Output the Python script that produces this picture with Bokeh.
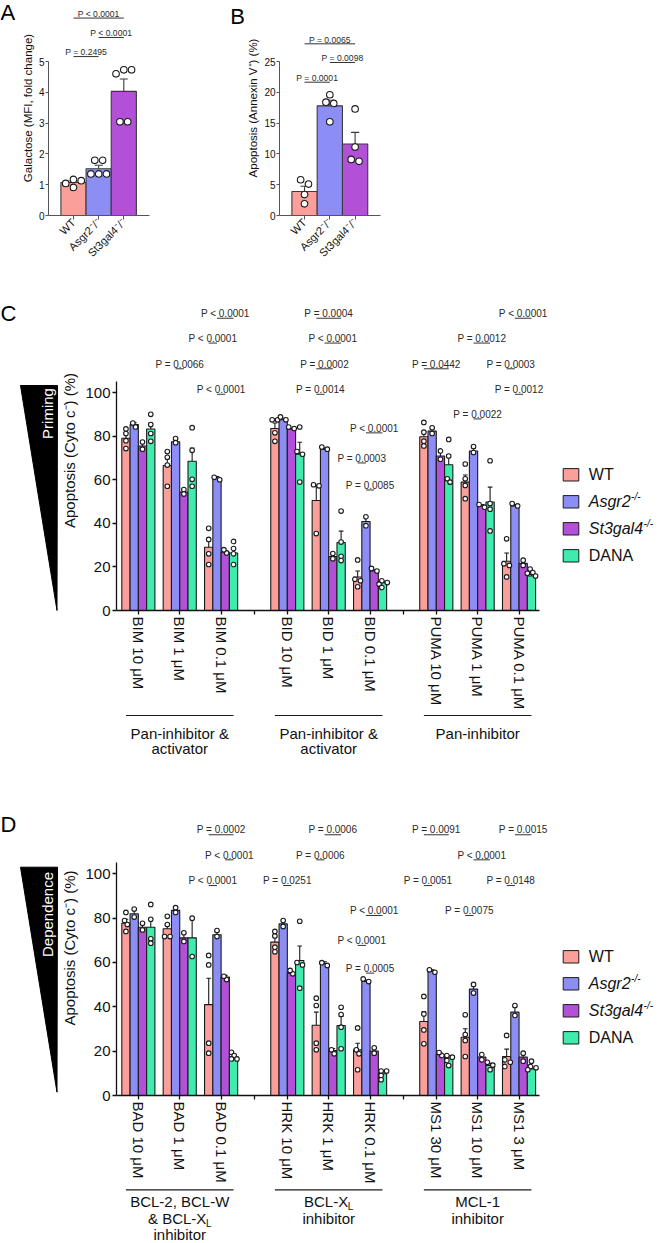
import math
from bokeh.plotting import figure
from bokeh.layouts import row, column
from bokeh.models import Range1d, FixedTicker
from bokeh.embed import file_html
from bokeh.resources import INLINE
from bokeh.core.properties import value

FONT = "Liberation Sans"
INK = "#1b1b1b"
FILLS = ["#FA9F9A", "#8C8EF6", "#B250D7", "#3FECAE"]

# ---------------- Panel A: surface galactose ----------------
a_groups = ["WT", "Asgr2⁻/⁻", "St3gal4⁻/⁻"]
a_mean = [1.07, 1.52, 4.03]
a_sem = [0.06, 0.11, 0.40]
a_points = [[1.17, 1.13, 1.04, 0.91],
            [1.79, 1.79, 1.35, 1.35, 1.35],
            [4.73, 4.60, 4.73, 3.04, 3.04]]
a_yticks = [0, 1, 2, 3, 4, 5]
a_tests = [("P < 0.0001", 0, 2), ("P < 0.0001", 1, 2), ("P = 0.2495", 0, 1)]
a_levels = [6.41, 5.78, 5.16]

# ---------------- Panel B: Annexin V ----------------
b_groups = ["WT", "Asgr2⁻/⁻", "St3gal4⁻/⁻"]
b_mean = [3.9, 17.8, 11.6]
b_sem = [0.85, 0.9, 1.9]
b_points = [[5.1, 5.8, 3.4, 1.9],
            [19.6, 18.4, 18.2, 15.2],
            [17.3, 11.1, 8.8, 9.1]]
b_yticks = [0, 5, 10, 15, 20, 25]
b_tests = [("P = 0.0065", 0, 2), ("P = 0.0098", 1, 2), ("P = 0.0001", 0, 1)]
b_levels = [27.87, 24.84, 21.64]

# ---------------- Panel C: BH3 priming ----------------
c_conditions = ["BIM 10 μM", "BIM 1 μM", "BIM 0.1 μM",
                "BID 10 μM", "BID 1 μM", "BID 0.1 μM",
                "PUMA 10 μM", "PUMA 1 μM", "PUMA 0.1 μM"]
c_families = [["Pan-inhibitor &", "activator"], ["Pan-inhibitor &", "activator"], ["Pan-inhibitor"]]
c_wt_mean = [79.0, 66.5, 29.0, 83.5, 50.5, 15.4, 79.7, 58.9, 22.6]
c_asgr2_mean = [85.3, 77.4, 60.8, 87.5, 74.0, 40.8, 82.3, 73.2, 48.0]
c_st3_mean = [75.5, 54.3, 26.7, 83.3, 24.8, 18.1, 70.9, 48.0, 21.6]
c_dana_mean = [83.3, 68.5, 26.4, 71.7, 31.2, 12.8, 66.9, 49.8, 15.8]
c_wt_sem = [2.5, 3.2, 4.2, 2.5, 7.0, 2.7, 2.3, 3.3, 3.8]
c_asgr2_sem = [0.9, 1.0, 0.6, 0.7, 0.5, 2.1, 1.3, 1.4, 0.6]
c_st3_sem = [1.7, 1.1, 0.8, 0.4, 1.2, 0.6, 1.9, 0.6, 1.2]
c_dana_sem = [2.7, 6.0, 2.2, 5.5, 5.2, 0.7, 4.7, 6.8, 0.7]
c_wt_pts = [[83.3, 81.2, 77.9, 74.3], [72.9, 70.3, 66.7, 57.0], [37.7, 32.6, 26.0, 21.1],
            [87.5, 87.5, 81.5, 77.6], [57.7, 57.2, 35.3], [23.2, 14.3, 13.6, 10.9],
            [86.3, 81.8, 77.7, 75.5], [67.2, 60.4, 57.4, 51.3], [32.9, 21.4, 20.7, 15.4]]
c_asgr2_pts = [[84.2, 86.0], [78.9, 77.0], [60.0, 61.1], [87.5, 88.8], [74.0, 75.0],
               [43.0, 38.9], [83.8, 81.2], [75.2, 72.5], [48.0, 49.1]]
c_st3_pts = [[77.3, 74.0], [55.5, 53.4], [26.4, 27.9], [83.5, 84.2], [26.1, 23.7],
             [18.1, 19.3], [73.2, 69.4], [47.4, 48.6], [23.1, 20.7]]
c_dana_pts = [[90.0, 85.3, 81.2, 77.6], [83.9, 73.5, 60.2, 57.0], [31.7, 28.4, 26.0, 21.1],
              [84.2, 72.9, 71.7, 58.9], [45.6, 31.4, 24.9, 22.9], [13.6, 12.8, 12.1, 10.6],
              [78.5, 70.9, 60.4, 58.9], [68.7, 49.1, 46.5, 36.5], [19.0, 17.4, 17.1, 15.8]]
# (label, condition, genotype a, genotype b, bracket row)
c_tests = [("P < 0.0001", 2, 1, 3, 0), ("P = 0.0004", 4, 0, 3, 0), ("P < 0.0001", 8, 1, 3, 0),
           ("P < 0.0001", 2, 0, 1, 1), ("P < 0.0001", 4, 1, 3, 1), ("P = 0.0012", 7, 1, 3, 1),
           ("P = 0.0066", 1, 1, 2, 2), ("P = 0.0002", 4, 0, 2, 2), ("P = 0.0442", 6, 0, 3, 2),
           ("P = 0.0003", 8, 0, 1, 2),
           ("P < 0.0001", 2, 1, 2, 3), ("P = 0.0014", 4, 0, 1, 3), ("P = 0.0012", 8, 1, 2, 3),
           ("P = 0.0022", 7, 1, 2, 4), ("P < 0.0001", 5, 1, 3, 5), ("P = 0.0003", 5, 0, 1, 6),
           ("P = 0.0085", 5, 1, 2, 7)]
c_levels = [134.1, 122.7, 110.9, 99.2, 87.9, 81.5, 67.7, 55.3]

# ---------------- Panel D: BH3 dependence ----------------
d_conditions = ["BAD 10 μM", "BAD 1 μM", "BAD 0.1 μM",
                "HRK 10 μM", "HRK 1 μM", "HRK 0.1 μM",
                "MS1 30 μM", "MS1 10 μM", "MS1 3 μM"]
d_families = [["BCL-2, BCL-W", "& BCL-X_L", "inhibitor"], ["BCL-X_L", "inhibitor"], ["MCL-1", "inhibitor"]]
d_wt_mean = [77.7, 75.2, 41.0, 69.2, 31.7, 20.6, 33.4, 26.3, 17.6]
d_asgr2_mean = [82.0, 83.5, 72.5, 77.4, 59.6, 51.4, 56.1, 48.0, 37.6]
d_st3_mean = [75.9, 71.1, 53.4, 55.2, 20.3, 20.0, 18.5, 17.3, 17.3]
d_dana_mean = [75.9, 71.1, 17.6, 60.9, 31.6, 9.8, 17.0, 13.5, 12.0]
d_wt_sem = [1.8, 2.1, 11.9, 2.2, 5.9, 3.0, 4.5, 3.8, 3.3]
d_asgr2_sem = [1.8, 1.1, 1.4, 1.4, 0.7, 0.6, 0.6, 2.0, 2.3]
d_st3_sem = [1.5, 2.0, 0.8, 0.8, 0.9, 1.2, 0.7, 1.2, 1.8]
d_dana_sem = [4.0, 8.7, 0.7, 6.5, 4.1, 0.9, 1.0, 1.0, 0.8]
d_wt_pts = [[82.6, 78.9, 77.1, 74.0], [80.8, 77.1, 71.7, 71.7], [63.2, 58.9, 23.6, 19.1],
            [72.0, 74.0, 66.9, 64.8], [43.9, 40.6, 23.6, 20.6], [30.5, 20.6, 18.8, 11.6],
            [44.7, 36.8, 29.6, 23.3], [36.4, 27.5, 24.8, 17.6], [27.1, 16.1, 15.0, 13.1]]
d_asgr2_pts = [[84.1, 80.5], [84.7, 82.6], [74.4, 71.7], [78.9, 76.2], [58.6, 59.9],
               [51.4, 52.6], [55.6, 56.7], [50.1, 46.2], [40.6, 36.1]]
d_st3_pts = [[77.7, 74.7], [73.4, 69.5], [52.3, 53.8], [54.9, 56.4], [20.6, 18.8],
             [19.1, 21.5], [18.0, 19.4], [18.5, 16.1], [19.1, 15.5]]
d_dana_pts = [[86.2, 79.5, 70.7, 68.7], [80.0, 62.7], [19.5, 18.0, 16.5, 16.5],
              [78.6, 60.0, 58.9, 48.4], [39.8, 36.5, 30.8, 21.1], [11.0, 11.0, 9.0, 7.1],
              [18.0, 17.3, 15.8, 13.5], [15.0, 13.7, 11.6], [15.5, 13.1, 12.5, 11.6]]
d_tests = [("P = 0.0002", 2, 0, 3, 0), ("P = 0.0006", 4, 1, 3, 0), ("P = 0.0091", 6, 0, 3, 0),
           ("P = 0.0015", 8, 1, 3, 0),
           ("P < 0.0001", 2, 2, 3, 1), ("P = 0.0006", 4, 0, 1, 1), ("P < 0.0001", 7, 1, 3, 1),
           ("P < 0.0001", 2, 0, 1, 2), ("P = 0.0251", 3, 1, 2, 2), ("P = 0.0051", 6, 0, 1, 2),
           ("P = 0.0148", 8, 0, 1, 2),
           ("P < 0.0001", 5, 1, 3, 3), ("P = 0.0075", 7, 0, 1, 3),
           ("P < 0.0001", 5, 0, 1, 4), ("P = 0.0005", 5, 1, 2, 5)]
d_levels = [117.6, 106.3, 94.7, 81.2, 67.7, 55.2]

legend_names = ["WT", "Asgr2", "St3gal4", "DANA"]
legend_knockout = [False, True, True, False]

# ---------------- helpers ----------------
CHAR_W = {" ": 278, "&": 667, "(": 333, ")": 333, ",": 278, "-": 333, ".": 278, "/": 278,
          "<": 584, "=": 584, "%": 889}
CHAR_W.update({d: 556 for d in "0123456789"})
CHAR_W.update(dict(A=667, B=667, C=722, D=722, E=667, F=611, G=778, H=722, I=278, K=667, L=556,
                   M=833, N=722, O=778, P=667, R=722, S=667, T=611, U=722, V=667, W=944, X=667))
CHAR_W.update(dict(a=556, b=556, c=500, d=556, e=556, f=278, g=556, h=556, i=222, l=222, m=833,
                   n=556, o=556, p=556, r=333, s=500, t=278, v=500, x=500, y=500))


def text_width(s, size):
    return sum(CHAR_W.get(ch, 556) for ch in s) * size / 1000.0


def make_fig(w, h, xr, yr, left=0, bottom=0, axes=True):
    opts = dict(width=w, height=h, x_range=xr, y_range=yr, toolbar_location=None,
                output_backend="svg", min_border_left=left, min_border_right=0,
                min_border_top=0, min_border_bottom=bottom, title=None)
    if not axes:
        opts.update(x_axis_location=None, y_axis_location=None)
    p = figure(**opts)
    p.outline_line_color = None
    p.xgrid.visible = False
    p.ygrid.visible = False
    p.background_fill_color = "white"
    p.border_fill_color = "white"
    return p


def style_axis(ax, size, color, lw, tick_out, standoff):
    ax.axis_line_color = color
    ax.axis_line_width = lw
    ax.major_tick_line_color = color
    ax.major_tick_line_width = lw
    ax.major_tick_out = tick_out
    ax.major_tick_in = 0
    ax.minor_tick_line_color = None
    ax.major_label_text_font = FONT
    ax.major_label_text_font_size = size
    ax.major_label_text_color = "#111111"
    ax.major_label_standoff = standoff
    ax.axis_label_text_font = FONT
    ax.axis_label_text_font_style = "normal"
    ax.axis_label_text_color = "#111111"


def swarm_offsets(vals, px_y, diam, px_x):
    """Spread points that would overlap sideways, then centre each cluster."""
    order = sorted(range(len(vals)), key=lambda i: -vals[i])
    placed = {}
    for i in order:
        y = vals[i] * px_y
        dx = 0.0
        for k in (0, 1, -1, 2, -2, 3, -3):
            dx = k * diam * 0.6
            if all((dx - a) ** 2 + (y - b) ** 2 >= (0.9 * diam) ** 2 for a, b in placed.values()):
                break
        placed[i] = (dx, y)
    clusters, cur = [], [order[0]]
    for prev, nxt in zip(order, order[1:]):
        if placed[prev][1] - placed[nxt][1] < diam:
            cur.append(nxt)
        else:
            clusters.append(cur)
            cur = [nxt]
    clusters.append(cur)
    out = {}
    for cl in clusters:
        mean_dx = sum(placed[i][0] for i in cl) / len(cl)
        for i in cl:
            out[i] = (placed[i][0] - mean_dx) / px_x
    return [out[i] for i in range(len(vals))]


def draw_series(p, series, px_x, px_y, diam, cap_half, lw, edge):
    """series: list of (xs, means, sems, points, fill)."""
    for xs, means, sems, pts, fill in series:
        p.vbar(x=xs, top=means, bottom=0, width=1.0, fill_color=fill, line_color=edge, line_width=lw)
    for xs, means, sems, pts, fill in series:
        tops = [m + s for m, s in zip(means, sems)]
        p.segment(x0=xs, y0=means, x1=xs, y1=tops, line_color=edge, line_width=lw)
        p.segment(x0=[x - cap_half for x in xs], y0=tops, x1=[x + cap_half for x in xs], y1=tops,
                  line_color=edge, line_width=lw)
    dx, dy = [], []
    for xs, means, sems, pts, fill in series:
        for x, vals in zip(xs, pts):
            offs = swarm_offsets(vals, px_y, diam, px_x)
            dx += [x + o for o in offs]
            dy += vals
    p.scatter(x=dx, y=dy, size=diam, marker="circle", fill_color="white", line_color=INK,
              line_width=1.1)


def draw_tests(p, brackets, px_y, size):
    """brackets: list of (label, x0, x1, level); label sits just above its bracket line."""
    p.segment(x0=[b[1] for b in brackets], y0=[b[3] for b in brackets],
              x1=[b[2] for b in brackets], y1=[b[3] for b in brackets],
              line_color="#333333", line_width=1)
    lift = (1.2 + 0.36 * size) / px_y
    p.text(x=[(b[1] + b[2]) / 2 for b in brackets], y=[b[3] + lift for b in brackets],
           text=[b[0] for b in brackets], text_align="center", text_baseline="middle",
           text_font=value(FONT), text_font_size=f"{size}px", text_color="#2a2a2a")


# ---------------- panels A & B ----------------
def genotype_panel(width, left_border, frame_left_px, first_center_px, unit_px, y_ppu,
                   groups, means, sems, points, yticks, ylabel, tests, levels):
    frame_w = width - left_border
    start = (frame_left_px - first_center_px) / unit_px
    xr = Range1d(start, start + frame_w / unit_px)
    yr = Range1d(0, 215 / y_ppu)
    p = make_fig(width, 290, xr, yr, left=left_border, bottom=75)
    xs = list(range(len(groups)))
    draw_series(p, [([x], [m], [s], [pt], FILLS[i]) for i, (x, m, s, pt) in
                    enumerate(zip(xs, means, sems, points))],
                unit_px, y_ppu, 6.6, 0.16, 1.1, "#3a3a3a")
    draw_tests(p, [(t, a, b, lv) for (t, a, b), lv in zip(tests, levels)], y_ppu, 8.6)
    ya = p.yaxis[0]
    style_axis(ya, "10px", "#555555", 1, 3, 1)
    ya.ticker = FixedTicker(ticks=yticks)
    ya.bounds = (0, yticks[-1])
    ya.axis_label = ylabel
    ya.axis_label_text_font_size = "11.5px"
    ya.axis_label_standoff = 2
    xa = p.xaxis[0]
    style_axis(xa, "11px", "#555555", 1, 4, 1)
    xa.ticker = FixedTicker(ticks=xs)
    xa.major_label_overrides = {x: g for x, g in zip(xs, groups)}
    xa.major_label_orientation = math.pi / 4
    xa.bounds = (start, len(groups) + 0.02)
    return p, (first_center_px, unit_px, y_ppu)


figA, a_map = genotype_panel(226, 26, 44, 69.5, 25.67, 30.8, a_groups, a_mean, a_sem, a_points,
                             a_yticks, "Galactose (MFI, fold change)", a_tests, a_levels)
figB, _ = genotype_panel(414, 28, 272, 297.5, 25.75, 6.16, b_groups, b_mean, b_sem, b_points,
                         b_yticks, "Apoptosis (Annexin V⁺) (%)", b_tests, b_levels)
# panel letter "B" sits in the blank right margin of panel A's frame
figB_letter_x = (229.5 - a_map[0]) / a_map[1]
figA.text(x=[figB_letter_x], y=[(215 - 16) / a_map[2]], text=["B"], text_align="left",
          text_baseline="alphabetic", text_font=value(FONT), text_font_size="22px", text_color="black")

letterA = make_fig(18, 290, Range1d(0, 18), Range1d(0, 290), axes=False)
letterA.text(x=[0], y=[290 - 16], text=["A"], text_align="left", text_baseline="alphabetic",
             text_font=value(FONT), text_font_size="22px", text_color="black")

# ---------------- panels C & D ----------------
MAIN_W, MAIN_LEFT = 494, 55
X_PPU = 8.333
X_START = -22 / X_PPU
BAR_OFFSETS = [-1.5, -0.5, 0.5, 1.5]


def condition_positions(n_groups, per_group, step, group_gap):
    xs, gaps, x = [], [], 0
    for g in range(n_groups):
        for k in range(per_group):
            xs.append(x)
            x += step
        x -= step
        if g < n_groups - 1:
            gaps.append(x + group_gap // 2)
            x += group_gap
    return xs, gaps


COND_X, GAP_X = condition_positions(3, 3, 5, 8)


def dose_panel(height, border_bottom, y_ppu, conditions, means, sems, points, tests, levels):
    frame_h = height - border_bottom
    xr = Range1d(X_START, X_START + (MAIN_W - MAIN_LEFT) / X_PPU)
    yr = Range1d(0, frame_h / y_ppu)
    p = make_fig(MAIN_W, height, xr, yr, left=MAIN_LEFT, bottom=border_bottom)
    series = []
    for g in range(4):
        xs = [x + BAR_OFFSETS[g] for x in COND_X]
        series.append((xs, means[g], sems[g], points[g], FILLS[g]))
    draw_series(p, series, X_PPU, y_ppu, 4.6, 0.28, 1.1, INK)
    brackets = [(t, COND_X[c] + BAR_OFFSETS[a], COND_X[c] + BAR_OFFSETS[b], levels[r])
                for t, c, a, b, r in tests]
    draw_tests(p, brackets, y_ppu, 10)
    ya = p.yaxis[0]
    style_axis(ya, "15px", "#111111", 1.3, 4, 2)
    ya.ticker = FixedTicker(ticks=[0, 20, 40, 60, 80, 100])
    ya.bounds = (0, 105)
    ya.axis_label = "Apoptosis (Cyto c⁻) (%)"
    ya.axis_label_text_font_size = "15px"
    ya.axis_label_standoff = 4
    xa = p.xaxis[0]
    style_axis(xa, "15px", "#111111", 1.3, 4, 2)
    xa.ticker = FixedTicker(ticks=sorted(COND_X + GAP_X))
    overrides = {x: c for x, c in zip(COND_X, conditions)}
    overrides.update({x: "" for x in GAP_X})
    xa.major_label_overrides = overrides
    xa.major_label_orientation = "vertical"
    xa.bounds = (X_START, COND_X[-1] + 2.5)
    return p


def family_fig(height, x_range, families, line_down, row_downs):
    p = make_fig(MAIN_W, height, x_range, Range1d(0, height), left=MAIN_LEFT, axes=False)
    up = lambda d: height - d
    for k, lines in enumerate(families):
        first, last = COND_X[3 * k], COND_X[3 * k + 2]
        p.segment(x0=[first - 1.5], y0=[up(line_down)], x1=[last + 1.5], y1=[up(line_down)],
                  line_color=INK, line_width=1.2)
        cx = (first + last) / 2
        for line, rd in zip(lines, row_downs):
            if "_" in line:
                main, sub = line.split("_")
                w_main, w_sub = text_width(main, 15), text_width(sub, 10)
                left = cx - (w_main + w_sub) / 2 / X_PPU
                p.text(x=[left], y=[up(rd)], text=[main], text_align="left", text_baseline="middle",
                       text_font=value(FONT), text_font_size="15px", text_color="#111111")
                p.text(x=[left + w_main / X_PPU], y=[up(rd) - 5], text=[sub], text_align="left",
                       text_baseline="middle", text_font=value(FONT), text_font_size="10px",
                       text_color="#111111")
            else:
                p.text(x=[cx], y=[up(rd)], text=[line], text_align="center", text_baseline="middle",
                       text_font=value(FONT), text_font_size="15px", text_color="#111111")
    return p


def wedge_fig(height, letter, letter_base, top_down, bottom_down, word, word_center):
    w = 58
    p = make_fig(w, height, Range1d(0, w), Range1d(0, height), axes=False)
    up = lambda d: height - d
    p.patch(x=[20, 57, 56.5], y=[up(top_down), up(top_down), up(bottom_down)],
            fill_color="black", line_color="black")
    p.text(x=[0], y=[up(letter_base)], text=[letter], text_align="left", text_baseline="alphabetic",
           text_font=value(FONT), text_font_size="22px", text_color="black")
    p.text(x=[47], y=[up(word_center)], text=[word], angle=math.pi / 2, text_align="center",
           text_baseline="middle", text_font=value(FONT), text_font_size="15px", text_color="white")
    return p


def legend_fig(height, first_row):
    w = 106
    p = make_fig(w, height, Range1d(0, w), Range1d(0, height), axes=False)
    ys = [height - (first_row + 27 * i) for i in range(4)]
    p.rect(x=[18.5] * 4, y=ys, width=15.6, height=12.4, fill_color=FILLS, line_color=INK,
           line_width=1)
    for name, ko, y in zip(legend_names, legend_knockout, ys):
        style = "italic" if ko else "normal"
        p.text(x=[36.3], y=[y], text=[name], text_align="left", text_baseline="middle",
               text_font=value(FONT), text_font_size="16px", text_font_style=style,
               text_color="#111111")
        if ko:
            p.text(x=[36.3 + text_width(name, 16) + 0.5], y=[y + 5], text=["-/-"],
                   text_align="left", text_baseline="middle", text_font=value(FONT),
                   text_font_size="10px", text_font_style="italic", text_color="#111111")
    return p


mainC = dose_panel(423, 100, 2.2, c_conditions,
                   [c_wt_mean, c_asgr2_mean, c_st3_mean, c_dana_mean],
                   [c_wt_sem, c_asgr2_sem, c_st3_sem, c_dana_sem],
                   [c_wt_pts, c_asgr2_pts, c_st3_pts, c_dana_pts], c_tests, c_levels)
famC = family_fig(87, mainC.x_range, c_families, 2, [19.7, 35.3])
wedgeC = wedge_fig(510, "C", 23, 95, 320, "Priming", 123)
legC = legend_fig(510, 184.3)

mainD = dose_panel(387, 92, 2.217, d_conditions,
                   [d_wt_mean, d_asgr2_mean, d_st3_mean, d_dana_mean],
                   [d_wt_sem, d_asgr2_sem, d_st3_sem, d_dana_sem],
                   [d_wt_pts, d_asgr2_pts, d_st3_pts, d_dana_pts], d_tests, d_levels)
famD = family_fig(56, mainD.x_range, d_families, 2.3, [14.2, 30.7, 46.6])
wedgeD = wedge_fig(443, "D", 24, 66.7, 291.7, "Dependence", 114)
legD = legend_fig(443, 156.3)

page = column(
    row(letterA, figA, figB),
    row(wedgeC, column(mainC, famC), legC),
    row(wedgeD, column(mainD, famD), legD),
)

with open("out.html", "w") as f:
    f.write(file_html(page, INLINE))
